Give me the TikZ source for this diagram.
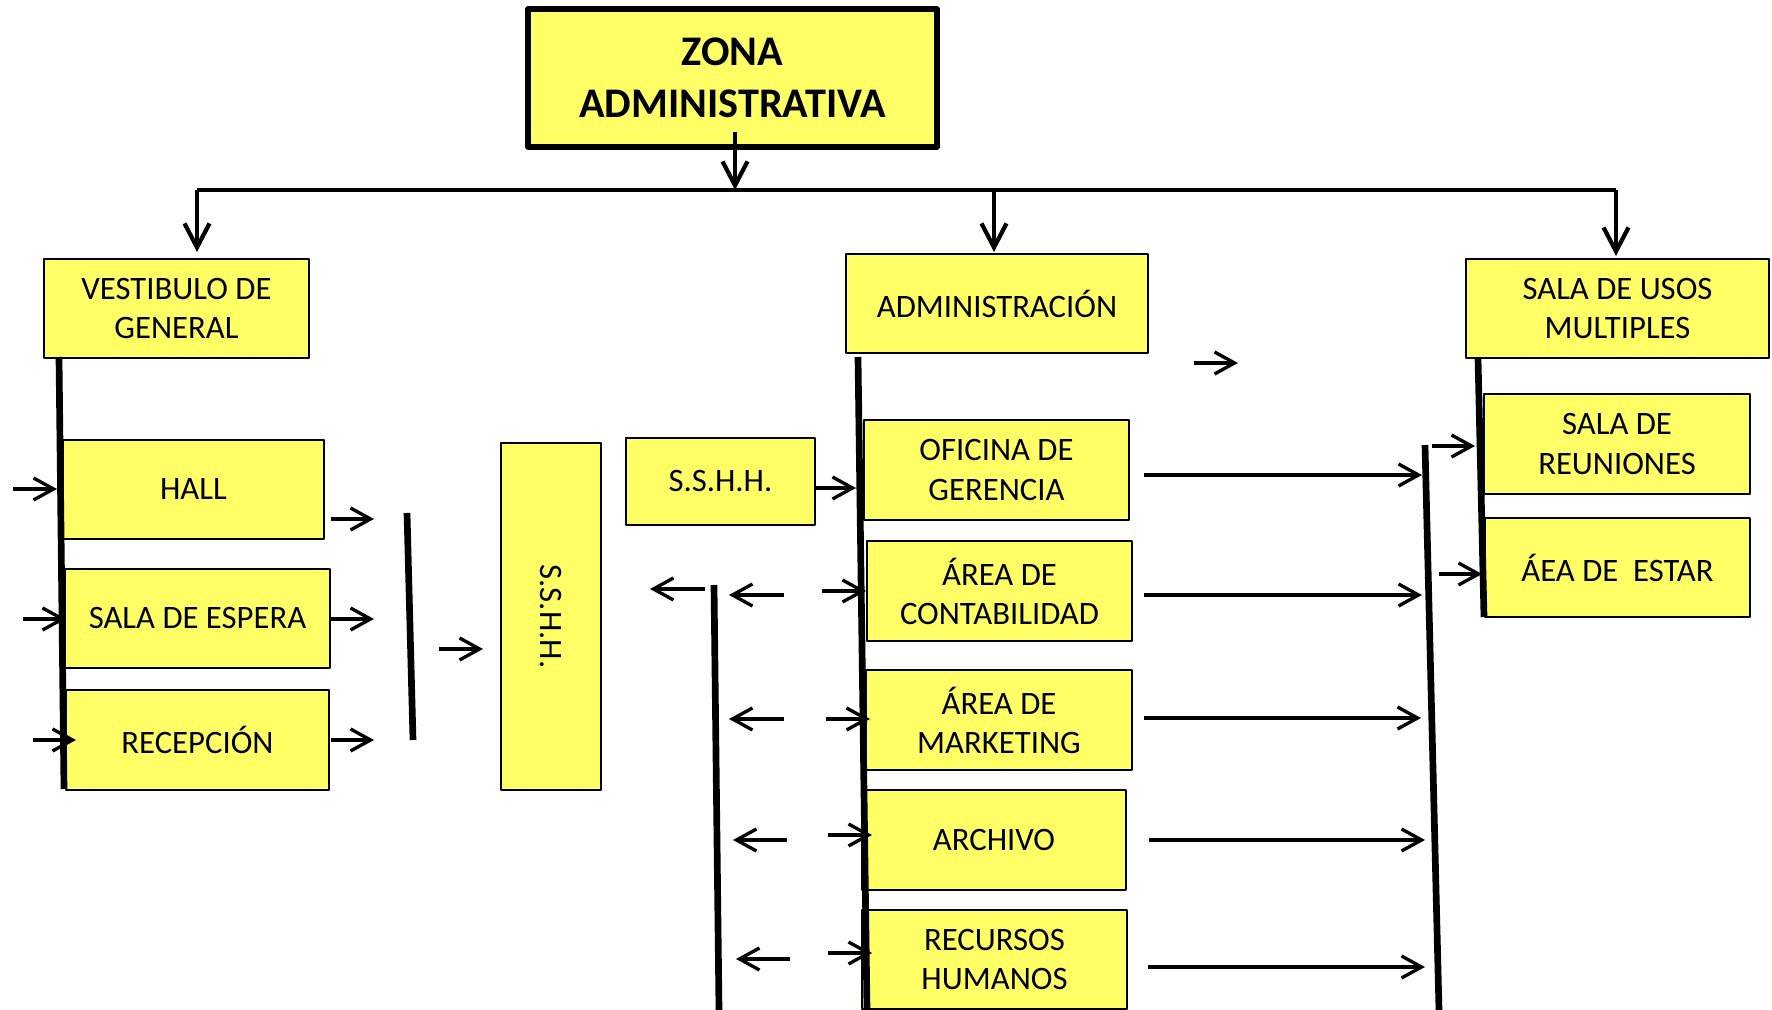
\documentclass[tikz,border=0pt]{standalone}
\usepackage{fontspec}
\setmainfont{Carlito}
\usetikzlibrary{arrows.meta}
\definecolor{amarillo}{HTML}{FFFF66}
\tikzset{
  caja/.style={draw=black, line width=0.5pt, fill=amarillo, align=center, inner sep=0pt,
    font=\fontsize{9.3}{11.1}\selectfont},
  cajazona/.style={caja, line width=1.5pt, font=\bfseries\fontsize{12}{14.8}\selectfont},
  flecha/.style={-{Straight Barb[length=2mm,width=2.2mm]}, line width=0.95pt},
  flechabaja/.style={-{Straight Barb[length=2.4mm,width=2.5mm]}, line width=1.2pt},
  barra/.style={line width=1.9pt}
}
\begin{document}
\begin{tikzpicture}[x=0.01cm, y=-0.01cm, line join=round]
\useasboundingbox (0,0) rectangle (1772,1010);

% Caja principal
\node[cajazona, minimum width=4.09cm, minimum height=1.38cm] (zona) at (732.5,78) {ZONA\\ADMINISTRATIVA};

% Cajas de primer nivel
\node[caja, minimum width=2.65cm, minimum height=0.99cm] (vest) at (176.5,308.5) {VESTIBULO DE\\GENERAL};
\node[caja, minimum width=3.02cm, minimum height=0.99cm] (admin) at (997,303.5) {ADMINISTRACIÓN};
\node[caja, minimum width=3.03cm, minimum height=0.99cm] (usos) at (1617.5,308.5) {SALA DE USOS\\MULTIPLES};

% Vestibulo
\node[caja, minimum width=2.61cm, minimum height=0.99cm] (hall) at (193.5,489.5) {HALL};
\node[caja, minimum width=2.65cm, minimum height=0.99cm] (espera) at (197.5,618.5) {SALA DE ESPERA};
\node[caja, minimum width=2.63cm, minimum height=1.00cm] (recep) at (197.5,740) {RECEPCIÓN};
\node[caja, minimum width=1.00cm, minimum height=3.47cm] (sshhv) at (551,616.5) {};
\node[rotate=-90, font=\fontsize{9.3}{11.1}\selectfont] (sshhvtxt) at (sshhv.center) {S.S.H.H.};

% Administracion
\node[caja, minimum width=1.89cm, minimum height=0.87cm] (sshh) at (720.5,481.5) {S.S.H.H.};
\node[caja, minimum width=2.65cm, minimum height=1.00cm] (geren) at (996.5,470) {OFICINA DE\\GERENCIA};
\node[caja, minimum width=2.65cm, minimum height=1.00cm] (conta) at (999.5,591) {ÁREA DE\\CONTABILIDAD};
\node[caja, minimum width=2.66cm, minimum height=1.00cm] (marke) at (999,720) {ÁREA DE\\MARKETING};
\node[caja, minimum width=2.64cm, minimum height=1.00cm] (archi) at (994,840) {ARCHIVO};
\node[caja, minimum width=2.65cm, minimum height=0.99cm] (recur) at (994.5,959.5) {RECURSOS\\HUMANOS};

% Sala de usos multiples
\node[caja, minimum width=2.66cm, minimum height=1.00cm] (reuni) at (1617,444) {SALA DE\\REUNIONES};
\node[caja, minimum width=2.65cm, minimum height=0.99cm] (estar) at (1617.5,567.5) {ÁEA DE\ \ ESTAR};

% Linea de distribucion
\coordinate (busA) at (197,190);
\coordinate (busB) at (1616,190);
\draw[line width=1.3pt] (busA) -- (busB);
\draw[flechabaja] (735,132) -- (735,190);
\draw[flechabaja] (busA) -- (197,252);
\draw[flechabaja] (994,190) -- (994,252);
\draw[flechabaja] (busB) -- (1616,256);

% Barras verticales
\foreach \xa/\ya/\xb/\yb in {59/357/64/789, 407/513/413/740, 858/357/867/1010,
  714/585/719/1010, 1425/445/1439/1010, 1478/358/1484/617}
{
  \draw[barra] (\xa,\ya) -- (\xb,\yb);
}

% Flechas cortas
\foreach \xa/\xb/\y in {13/57/489, 23/66/619, 33/76/740, 331/374/519, 331/374/619,
  331/374/740, 439/483/649, 814/856/488, 1194/1238/363, 822/866/591, 826/870/719,
  828/872/835, 828/872/953, 1432/1475/446, 1439/1482/574}
{
  \draw[flecha] (\xa,\y) -- (\xb,\y);
}

% Flechas largas
\foreach \xa/\xb/\y in {1144/1422/475, 1144/1422/595, 1144/1421/718, 1149/1425/840, 1148/1425/967}
{
  \draw[flecha] (\xa,\y) -- (\xb,\y);
}

% Flechas hacia la izquierda
\foreach \xa/\xb/\y in {705/650/589, 784/729/595, 784/729/719, 787/733/840, 790/736/959}
{
  \draw[flecha] (\xa,\y) -- (\xb,\y);
}

\end{tikzpicture}
\end{document}
